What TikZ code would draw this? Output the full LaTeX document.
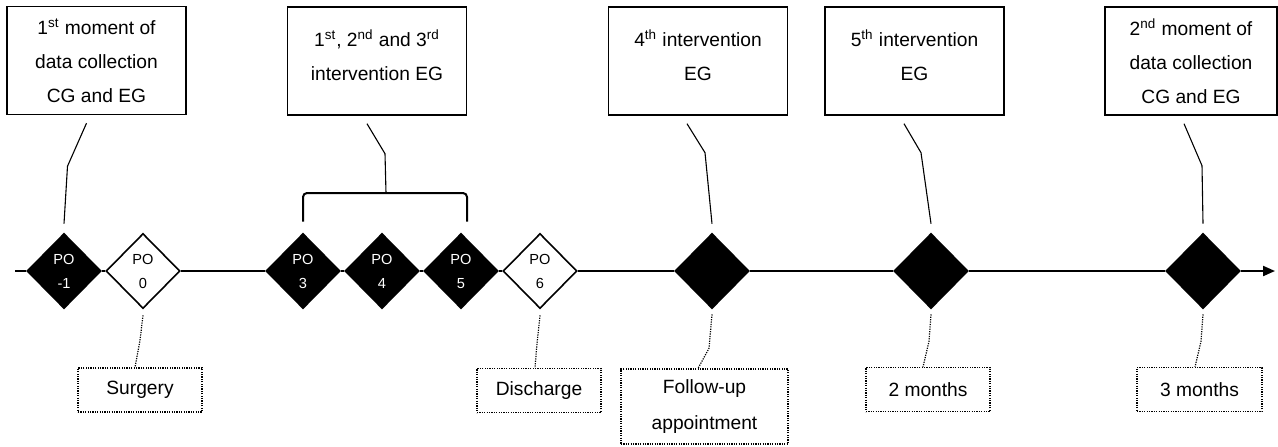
\documentclass[tikz,border=0pt]{standalone}
\usepackage{fontspec}
\setmainfont{Liberation Sans}
\usepackage{tikz}
\usetikzlibrary{shapes.geometric,arrows.meta,calc}
\tikzstyle{block} = [rectangle, draw, line width=0.7pt, align=center, minimum width=89.5pt, minimum height=54pt, font=\fontsize{9.6}{17}\selectfont]
\tikzstyle{shortblock} = [block, text depth=6pt]
\tikzstyle{note} = [rectangle, draw, line width=0.6pt, dash pattern=on 0.6pt off 0.6pt, align=center, minimum width=62pt, minimum height=22pt, font=\fontsize{9.6}{18}\selectfont]
\tikzstyle{event} = [diamond, draw, line width=0.8pt, fill=black, text=white, inner sep=0pt, minimum width=37pt, minimum height=37.5pt, align=center, font=\fontsize{7.3}{12}\selectfont]
\tikzstyle{rest} = [event, fill=white, text=black]
\tikzstyle{line} = [draw, line width=0.55pt]
\tikzstyle{dotline} = [draw, line width=0.6pt, dash pattern=on 0.6pt off 0.6pt]
\tikzstyle{bracket} = [draw, line width=1pt, rounded corners=2pt]
\tikzstyle{timeline} = [draw, line width=1pt, -{Triangle[length=6pt,width=5pt]}]

\begin{document}
\begin{tikzpicture}[x=0.5pt, y=-0.5pt]
    \useasboundingbox (0,0) rectangle (1278,446);

    \node [block] (mom1) at (96.5,60.5) {1\textsuperscript{st} moment of\\data collection\\CG and EG};
    \node [shortblock] (int123) at (377,61) {1\textsuperscript{st}, 2\textsuperscript{nd} and 3\textsuperscript{rd}\\intervention EG};
    \node [shortblock] (int4) at (698,61) {4\textsuperscript{th} intervention\\EG};
    \node [shortblock] (int5) at (914.5,61) {5\textsuperscript{th} intervention\\EG};
    \node [block, minimum width=86pt] (mom2) at (1191,61) {2\textsuperscript{nd} moment of\\data collection\\CG and EG};

    \node [event] (pom1) at (64,271) {PO\\-1};
    \node [rest] (po0) at (143,271) {PO\\0};
    \node [event] (po3) at (303,271) {PO\\3};
    \node [event] (po4) at (382,271) {PO\\4};
    \node [event] (po5) at (461,271) {PO\\5};
    \node [rest] (po6) at (540,271) {PO\\6};
    \node [event] (fup) at (712,271) {};
    \node [event] (mo2) at (931,271) {};
    \node [event] (mo3) at (1203,271) {};

    \node [note] (surgery) at (140,390) {Surgery};
    \node [note] (discharge) at (539,390.5) {Discharge};
    \node [note, minimum width=83.5pt, minimum height=37.5pt] (followup) at (704.5,406.5) {Follow-up\\appointment};
    \node [note] (twomonths) at (928,389.5) {2 months};
    \node [note, minimum width=62.5pt] (threemonths) at (1199.5,389.5) {3 months};

    \coordinate (tlstart) at (15,271);
    \coordinate (tlend) at (1275,271);
    \coordinate (brk) at (386,193);

    \path [timeline] (tlstart) -- (pom1) -- (po0) -- (po3) -- (po4) -- (po5) -- (po6) -- (fup) -- (mo2) -- (mo3) -- (tlend);

    \path [line] (mom1.south) ++(-10,8) -- ++(-19,43) -- ([yshift=4.5pt]pom1.north);
    \path [line] (int123.south) ++(-10,8) -- ++(18,30) -- (brk);
    \path [bracket] ([yshift=5.5pt]po3.north) |- (brk) -| ([xshift=3pt,yshift=5.5pt]po5.north);
    \path [line] (int4.south) ++(-11,8) -- ++(18,29) -- ([yshift=4.5pt]fup.north);
    \path [line] (int5.south) ++(-10.5,8) -- ++(17,29) -- ([yshift=4.5pt]mo2.north);
    \path [line] (mom2.south) ++(-7,8) -- ++(18,42) -- ([yshift=4.5pt]mo3.north);

    \path [dotline] ([yshift=-3pt]po0.south) -- ++(-3,25) -- ([xshift=-2.5pt]surgery.north);
    \path [dotline] ([yshift=-3pt]po6.south) -- ++(-3,28) -- ([xshift=-2pt]discharge.north);
    \path [dotline] ([yshift=-2.5pt]fup.south) -- ++(-3,34) -- ([xshift=-3.25pt]followup.north);
    \path [dotline] ([yshift=-2.5pt]mo2.south) -- ++(-2,27) -- ([xshift=-2.5pt]twomonths.north);
    \path [dotline] ([yshift=-2.5pt]mo3.south) -- ++(-2,27) -- ([xshift=-2.25pt]threemonths.north);
\end{tikzpicture}
\end{document}
